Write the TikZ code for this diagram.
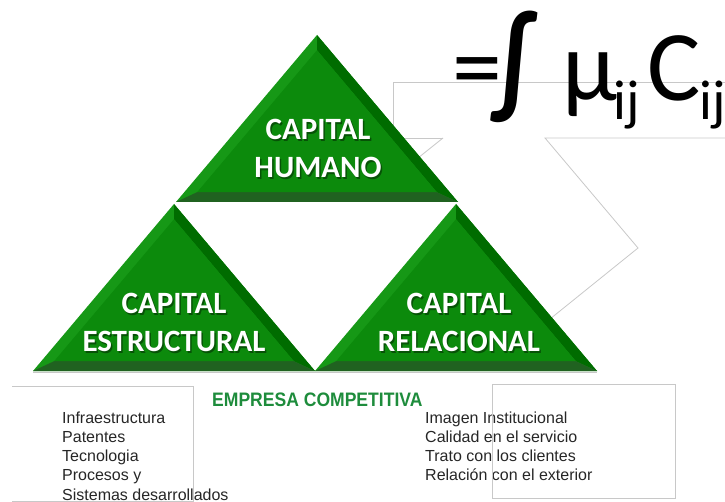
\documentclass[tikz,border=0pt]{standalone}
\usepackage{fontspec}
\setmainfont{Carlito}
\newfontfamily\arialf{Liberation Sans}
\usetikzlibrary{calc}
\definecolor{gmain}{RGB}{12,138,12}
\definecolor{gright}{RGB}{0,108,0}
\definecolor{gbottom}{RGB}{32,98,32}
\definecolor{gleft}{RGB}{22,152,22}
\definecolor{lgray}{RGB}{200,200,200}
\definecolor{egreen}{RGB}{30,140,60}
\tikzset{
  tritext/.style={text=white, font=\bfseries\fontsize{31}{38}\selectfont, align=center, inner sep=0pt},
  trishadow/.style={text=black, opacity=0.4, font=\bfseries\fontsize{31}{38}\selectfont, align=center, inner sep=0pt},
  listtext/.style={font=\arialf\fontsize{16}{19.2}\selectfont, align=left, anchor=north west, inner sep=0pt, text=black!85},
  graybox/.style={draw=lgray, line width=0.8pt},
  formula/.style={font=\fontsize{100}{100}\selectfont, anchor=base west, inner sep=0pt},
  formsub/.style={font=\fontsize{56}{56}\selectfont, anchor=base west, inner sep=0pt},
}
\newcommand\bevtri[3]{%
  \coordinate (#1A) at (#2,#3);
  \coordinate (#1L) at ($(#1A)+(-141,167)$);
  \coordinate (#1R) at ($(#1A)+(141,167)$);
  \coordinate (#1I) at ($(#1A)+(0,101.4)$);
  \coordinate (#1a) at ($(#1I)!0.85!(#1A)$);
  \coordinate (#1l) at ($(#1I)!0.85!(#1L)$);
  \coordinate (#1r) at ($(#1I)!0.85!(#1R)$);
  \fill[gleft] (#1A) -- (#1L) -- (#1R) -- cycle;
  \fill[gright] (#1A) -- (#1R) -- (#1r) -- (#1a) -- cycle;
  \fill[gbottom] (#1L) -- (#1R) -- (#1r) -- (#1l) -- cycle;
  \fill[gmain] (#1a) -- (#1l) -- (#1r) -- cycle;
}
\begin{document}
\begin{tikzpicture}[x=1pt,y=-1pt]
\useasboundingbox (0,0) rectangle (725,502);
% callout outlines
\coordinate (c1) at (393,138);
\coordinate (c2) at (393,82);
\coordinate (c3) at (725,82);
\coordinate (c4) at (443,138);
\coordinate (c5) at (418,158);
\coordinate (c6) at (725,138);
\coordinate (c7) at (545,138);
\coordinate (c8) at (638,248);
\coordinate (c9) at (550,319);
\draw[graybox] (c4) -- (c1) -- (c2) -- (c3);
\draw[graybox] (c4) -- (c5);
\draw[graybox] (c6) -- (c7) -- (c8) -- (c9);
% formula
\node[formula] (eq) at (452,101) {=};
\node[formula] (intg) at (494,104) {\scalebox{1.05}[1.2]{\bfseries ∫}};
\node[formula] (mu) at (562,101) {μ};
\node[formsub] (s1) at (613,120) {ij};
\node[formula] (cc) at (647,101) {C};
\node[formsub] (s2) at (699,120) {ij};
% triangles
\draw[lgray, line width=1pt] (33,372) -- (597,372);
\bevtri{h}{317}{35}
\bevtri{e}{174}{204}
\bevtri{r}{456}{204}
\node[trishadow] (hums) at (319.5,150) {CAPITAL\\HUMANO};
\node[tritext] (hum) at (318,148.5) {CAPITAL\\HUMANO};
\node[trishadow] (ests) at (175.5,324) {CAPITAL\\ESTRUCTURAL};
\node[tritext] (est) at (174,322.5) {CAPITAL\\ESTRUCTURAL};
\node[trishadow] (rels) at (460.5,324) {CAPITAL\\RELACIONAL};
\node[tritext] (rel) at (459,322.5) {CAPITAL\\RELACIONAL};
% label
\node[anchor=base west, inner sep=0pt, text=egreen, font=\arialf\bfseries\fontsize{19.5}{20}\selectfont] (emp) at (212,406) {\scalebox{0.9}[1]{EMPRESA COMPETITIVA}};
% lists
\node[listtext] (left) at (62,411.5) {Infraestructura\\Patentes\\Tecnologia\\Procesos y\\Sistemas desarrollados};
\node[listtext] (right) at (425,411.5) {Imagen Institucional\\Calidad en el servicio\\Trato con los clientes\\Relación con el exterior};
\coordinate (b1) at (12,386);
\coordinate (b2) at (193,386);
\coordinate (b3) at (193,501);
\coordinate (b4) at (12,501);
\draw[graybox] (b1) -- (b2) -- (b3) -- (b4);
\coordinate (d1) at (492,384);
\coordinate (d2) at (675,498);
\draw[graybox] (d1) rectangle (d2);
\end{tikzpicture}
\end{document}
